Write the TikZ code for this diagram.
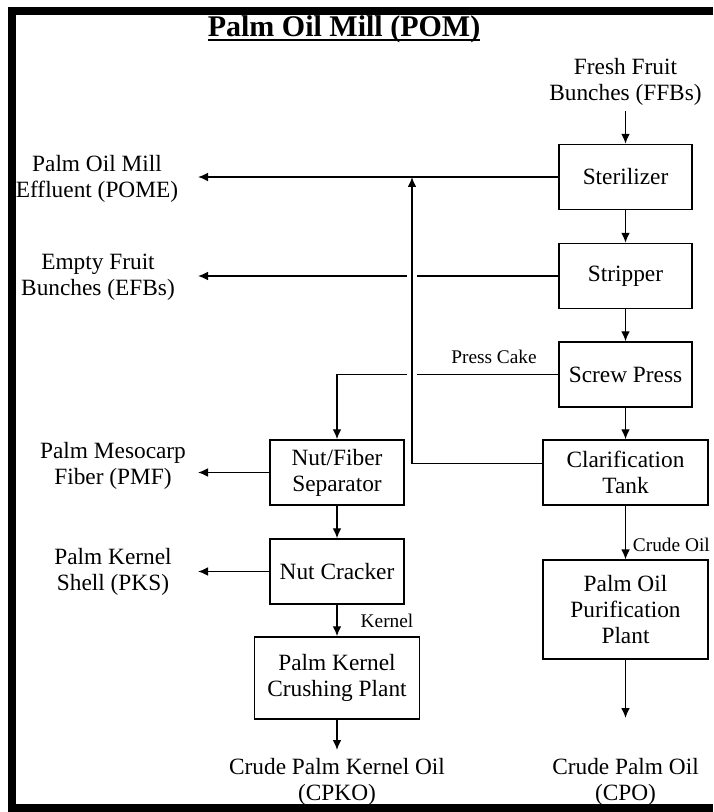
\documentclass[tikz,border=0pt]{standalone}
\usepackage{fontspec}
\setmainfont{Liberation Serif}
\usetikzlibrary{arrows.meta}

\begin{document}
\begin{tikzpicture}[x=0.75pt,y=-0.75pt,
  unit/.style={draw, line width=1.1pt, align=center, inner sep=2pt, font=\fontsize{17.5}{19.5}\selectfont, minimum width=99.75pt, minimum height=48.75pt},
  wideunit/.style={unit, minimum width=123.75pt},
  product/.style={align=center, inner sep=0pt, font=\fontsize{17.5}{19.5}\selectfont},
  stream/.style={inner sep=0pt, font=\fontsize{14.5}{16}\selectfont},
  flow/.style={line width=1pt, -{Latex[length=7.5pt,width=6.5pt]}},
  jump/.style={fill=white, inner sep=0pt, minimum width=7pt, minimum height=4pt}]
\useasboundingbox (0,0) rectangle (713,812);
% frame
\fill (8,7) rectangle (713,15);
\fill (8,7) rectangle (16,812);
\fill (8,804) rectangle (713,812);
% title
\node[inner sep=0pt, anchor=base, font=\bfseries\fontsize{22.5}{26}\selectfont] (title) at (344,37) {Palm Oil Mill (POM)};
\draw[line width=1.5pt] ([yshift=-2.6pt]title.base west) -- ([yshift=-2.6pt]title.base east);
% process units
\node[unit] (steril) at (625.5,177) {Sterilizer};
\node[unit] (strip) at (625.5,276) {Stripper};
\node[unit] (screw) at (625.5,374.5) {Screw Press};
\node[wideunit] (clar) at (625.5,472.5) {Clarification\\Tank};
\node[wideunit, minimum height=74pt] (purif) at (625.5,609.5) {Palm Oil\\Purification\\Plant};
\node[unit, minimum width=100.5pt] (sep) at (337,472.5) {Nut/Fiber\\Separator};
\node[unit, minimum width=100.5pt] (crack) at (337,571.5) {Nut Cracker};
\node[wideunit, minimum height=61.5pt] (crush) at (337,678) {Palm Kernel\\Crushing Plant};
% products
\node[product] (ffb) at (625.5,82) {Fresh Fruit\\Bunches (FFBs)};
\node[product] (pome) at (97,179) {Palm Oil Mill\\Effluent (POME)};
\node[product] (efb) at (98,277) {Empty Fruit\\Bunches (EFBs)};
\node[product] (pmf) at (113,466) {Palm Mesocarp\\Fiber (PMF)};
\node[product] (pks) at (113,572) {Palm Kernel\\Shell (PKS)};
\node[product] (cpko) at (337,782) {Crude Palm Kernel Oil\\(CPKO)};
\node[product] (cpo) at (625.5,782) {Crude Palm Oil\\(CPO)};
% stream labels
\node[stream] (cake) at (494,357) {Press Cake};
\node[stream] (kern) at (387,621) {Kernel};
\node[stream, anchor=east] (crude) at (710,545) {Crude Oil};
% free ends
\coordinate (outx) at (198,0);
\coordinate (ret) at (412,177);
\coordinate (cpkoin) at (337,750);
\coordinate (cpoin) at (625.5,718);
% main line
\draw[flow, shorten <=4pt] (ffb) -- (steril);
\draw[flow] (steril) -- (strip);
\draw[flow] (strip) -- (screw);
\draw[flow] (screw) -- (clar);
\draw[flow] (clar) -- (purif);
\draw[flow] (purif) -- (cpoin);
% kernel line
\draw[flow] (sep) -- (crack);
\draw[flow] (crack) -- (crush);
\draw[flow] (crush) -- (cpkoin);
% by-products
\draw[flow] (steril.west) -- (steril.west -| outx);
\draw[flow] (strip.west) -- (strip.west -| outx);
\draw[flow] (sep.west) -- (sep.west -| outx);
\draw[flow] (crack.west) -- (crack.west -| outx);
\draw[flow] (screw.west) -| (sep.north);
% sludge return
\node[jump] (j1) at (strip.west -| ret) {};
\node[jump] (j2) at (screw.west -| ret) {};
\draw[flow] ([yshift=6.75pt]clar.west) -| (ret);
\end{tikzpicture}
\end{document}
